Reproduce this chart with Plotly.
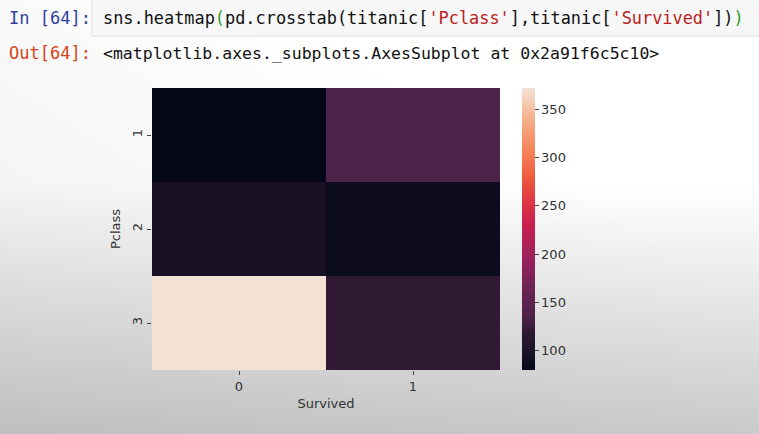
import base64
import plotly.graph_objects as go

# Data: pd.crosstab(titanic['Pclass'], titanic['Survived'])
pclass = ["1", "2", "3"]
survived = ["0", "1"]
counts = [
    [80, 136],
    [97, 87],
    [372, 119],
]
cbar_ticks = [100, 150, 200, 250, 300, 350]

rocket = [
    [0.00, "#06081A"],
    [0.03, "#0F0D1F"],
    [0.06, "#1A1226"],
    [0.135, "#2F1933"],
    [0.19, "#4E2249"],
    [0.30, "#6E2456"],
    [0.41, "#A0215B"],
    [0.50, "#C21F52"],
    [0.58, "#DC2F45"],
    [0.68, "#EE5A3F"],
    [0.78, "#F5845A"],
    [0.90, "#F6B391"],
    [1.00, "#F4E2D4"],
]

W, H = 759, 434
L, R, T, B = 152, 259, 88, 64

fig = go.Figure(
    go.Heatmap(
        z=counts,
        x=survived,
        y=pclass,
        colorscale=rocket,
        zmin=80,
        zmax=372,
        colorbar=dict(
            x=(522 - L) / (W - L - R),
            xanchor="left",
            xpad=0,
            ypad=0,
            y=0.5,
            len=1.0,
            lenmode="fraction",
            thickness=13,
            outlinewidth=0,
            tickvals=cbar_ticks,
            ticks="outside",
            ticklen=4,
            tickcolor="#444",
            tickfont=dict(family="DejaVu Sans", size=13, color="#333"),
        ),
    )
)

svg = (
    f'<svg xmlns="http://www.w3.org/2000/svg" width="{W}" height="{H}">'
    '<defs><linearGradient id="g" x1="0" y1="0" x2="0" y2="1">'
    '<stop offset="0" stop-color="#ffffff"/>'
    '<stop offset="0.42" stop-color="#ffffff"/>'
    '<stop offset="0.7" stop-color="#e6e6e6"/>'
    '<stop offset="1" stop-color="#cdcdcd"/>'
    '</linearGradient>'
    '<linearGradient id="h" x1="0" y1="1" x2="0.7" y2="0.35">'
    '<stop offset="0" stop-color="#000" stop-opacity="0.07"/>'
    '<stop offset="1" stop-color="#000" stop-opacity="0"/>'
    '</linearGradient></defs>'
    f'<rect width="{W}" height="{H}" fill="url(#g)"/>'
    f'<rect width="{W}" height="{H}" fill="url(#h)"/>'
    '</svg>'
)
src = "data:image/svg+xml;base64," + base64.b64encode(svg.encode()).decode()

pw = W - L - R
ph = H - T - B
def px_x(x):
    return (x - L) / pw
def px_y(y):
    return 1 - (y - T) / ph

fig.update_layout(
    width=W,
    height=H,
    margin=dict(l=L, r=R, t=T, b=B),
    paper_bgcolor="white",
    plot_bgcolor="white",
    images=[dict(
        source=src, xref="paper", yref="paper",
        x=px_x(0), y=px_y(0), sizex=W / pw, sizey=H / ph,
        xanchor="left", yanchor="top", sizing="stretch", layer="below",
    )],
    xaxis=dict(
        title=dict(text="Survived", font=dict(family="DejaVu Sans", size=13, color="#333"), standoff=6),
        ticks="outside", ticklen=4, tickcolor="#444",
        tickfont=dict(family="DejaVu Sans", size=13, color="#333"),
        showgrid=False, zeroline=False, showline=False,
    ),
    yaxis=dict(
        title=dict(text="Pclass", font=dict(family="DejaVu Sans", size=13, color="#333"), standoff=6),
        autorange="reversed",
        ticks="outside", ticklen=4, tickcolor="#444",
        tickangle=-90,
        tickfont=dict(family="DejaVu Sans", size=13, color="#333"),
        showgrid=False, zeroline=False, showline=False,
    ),
    shapes=[
        dict(type="rect", xref="paper", yref="paper",
             x0=px_x(92), x1=px_x(W + 5), y0=px_y(-2), y1=px_y(36),
             fillcolor="#f7f7f7", line=dict(color="#e0e0e0", width=1), layer="below"),
    ],
    annotations=[
        dict(xref="paper", yref="paper", x=px_x(7), y=px_y(18), xanchor="left", yanchor="middle",
             text="In [64]:", showarrow=False,
             font=dict(family="DejaVu Sans Mono", size=17, color="#303F9F")),
        dict(xref="paper", yref="paper", x=px_x(101), y=px_y(18), xanchor="left", yanchor="middle",
             text=("sns.heatmap<span style='color:#2e9e2e'>(</span>pd.crosstab(titanic[<span style='color:#BA2121'>'Pclass'</span>],"
                   "titanic[<span style='color:#BA2121'>'Survived'</span>])<span style='color:#2e9e2e'>)</span>"),
             showarrow=False,
             font=dict(family="DejaVu Sans Mono", size=16.9, color="#111")),
        dict(xref="paper", yref="paper", x=px_x(7), y=px_y(53), xanchor="left", yanchor="middle",
             text="Out[64]:", showarrow=False,
             font=dict(family="DejaVu Sans Mono", size=17, color="#D84315")),
        dict(xref="paper", yref="paper", x=px_x(101), y=px_y(53), xanchor="left", yanchor="middle",
             text="&lt;matplotlib.axes._subplots.AxesSubplot at 0x2a91f6c5c10&gt;", showarrow=False,
             font=dict(family="DejaVu Sans Mono", size=16.5, color="#111")),
    ],
)

fig.write_html("out.html")
